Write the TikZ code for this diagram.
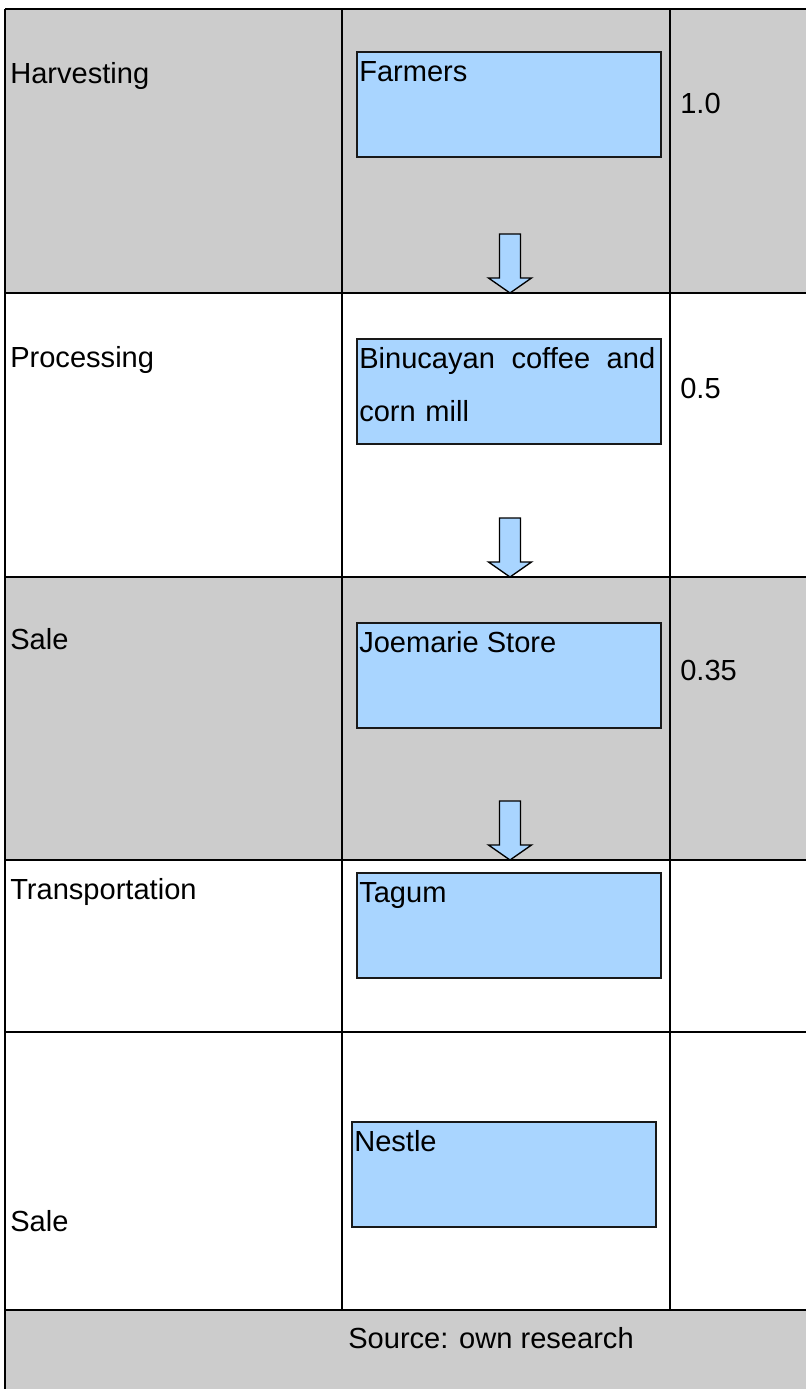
\documentclass[tikz,border=0pt]{standalone}
\usepackage{fontspec}
\setmainfont{Liberation Sans}
\definecolor{rowgray}{HTML}{CCCCCC}
\definecolor{boxblue}{HTML}{A9D5FF}
\tikzset{
  rowline/.style={line width=1.5pt},
  bluebox/.style={draw=black!90, line width=1.3pt, fill=boxblue},
  txt/.style={anchor=base west, inner sep=0pt, font=\fontsize{21.8}{39.75}\selectfont},
  blockarrow/.pic={
    \draw[fill=boxblue, line width=1pt, line join=miter]
      (-10.5,-59) -- (10.5,-59) -- (10.5,-15) -- (21.5,-15) -- (0,0)
      -- (-21.5,-15) -- (-10.5,-15) -- cycle;
  }
}
\begin{document}
\begin{tikzpicture}[x=0.75pt,y=-0.75pt]
  \useasboundingbox (0,0) rectangle (806,1389);
  \fill[rowgray] (5,9) rectangle (806,293);
  \fill[rowgray] (5,577) rectangle (806,860);
  \fill[rowgray] (5,1310) rectangle (806,1389);
  \begin{scope}[rowline]
    \draw (5,9) -- (806,9);
    \draw (5,9) -- (5,1389);
    \draw (342,9) -- (342,1310);
    \draw (670,9) -- (670,1310);
    \foreach \y in {293,577,860,1032,1310}
      \draw (5,\y) -- (806,\y);
  \end{scope}
  \draw[bluebox] (357,52) rectangle (661,157) node[midway] (farmers) {};
  \draw[bluebox] (357,339) rectangle (661,444) node[midway] (mill) {};
  \draw[bluebox] (357,623) rectangle (661,728) node[midway] (store) {};
  \draw[bluebox] (357,873) rectangle (661,978) node[midway] (tagum) {};
  \draw[bluebox] (352,1122) rectangle (656,1227) node[midway] (nestle) {};
  \node[txt] (harvest) at (10,83) {Harvesting};
  \node[txt] (process) at (10,367) {Processing};
  \node[txt] (sale1) at (10,649) {Sale};
  \node[txt] (transport) at (10,899) {Transportation};
  \node[txt] (sale2) at (10,1231) {Sale};
  \node[txt] (farmerstxt) at (359,81) {Farmers};
  \node[txt, text width=222pt, align=left] (milltxt) at (359,368)
    {Binucayan\hfill coffee\hfill and\\corn mill};
  \node[txt] (storetxt) at (359,652) {Joemarie Store};
  \node[txt] (tagumtxt) at (359,902) {Tagum};
  \node[txt] (nestletxt) at (354,1151) {Nestle};
  \node[txt] (v1) at (680,113) {1.0};
  \node[txt] (v2) at (680,398) {0.5};
  \node[txt] (v3) at (680,680) {0.35};
  \node[txt, anchor=base] (source) at (491,1348) {Source: own research};
  \pic at (510,293) {blockarrow};
  \pic at (510,577) {blockarrow};
  \pic at (510,860) {blockarrow};
\end{tikzpicture}
\end{document}
